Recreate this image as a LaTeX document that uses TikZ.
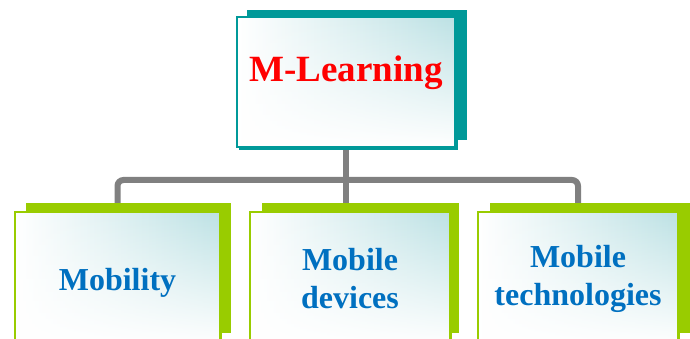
\documentclass[tikz,border=0pt]{standalone}
\usepackage{fontspec}
\setmainfont{Liberation Serif}
\usetikzlibrary{backgrounds,fadings}

\definecolor{boxteal}{HTML}{009999}
\definecolor{boxgreen}{HTML}{99CC00}
\definecolor{linkgray}{HTML}{808080}
\definecolor{titlered}{HTML}{FF0000}
\definecolor{itemblue}{HTML}{0070C0}
\definecolor{glow}{HTML}{BCE1E4}

% glow fades out towards the bottom of a box
\tikzfading[name=glowfade, top color=transparent!0, middle color=transparent!30, bottom color=transparent!100]

\tikzset{
  glowbox/.style={draw, line width=1.5pt, align=center, inner sep=0pt,
    preaction={fill=white},
    preaction={left color=white, middle color=glow!65, right color=glow, path fading=glowfade}},
}

\begin{document}
\begin{tikzpicture}[x=1pt,y=-1pt]
      \useasboundingbox (0,0) rectangle (690,339);

      % shadow boxes
      \fill[boxteal]  (247,10)  rectangle (467,140);
      \fill[boxgreen] (26,203)  rectangle (231,333);
      \fill[boxgreen] (262,203) rectangle (459,333);
      \fill[boxgreen] (490,203) rectangle (692,333);

      \begin{scope}[line width=1.2pt]
        \draw[boxteal, fill=white]  (240,19)  rectangle (457,149);
        \draw[boxgreen, fill=white] (17,214)  rectangle (221,345);
        \draw[boxgreen, fill=white] (252,214) rectangle (451,345);
        \draw[boxgreen, fill=white] (480,214) rectangle (679,345);
      \end{scope}

      \begin{scope}[every node/.style={glowbox}]
        \node[draw=boxteal, minimum width=218pt, minimum height=130pt, text=titlered,
              font=\bfseries\fontsize{37}{40}\selectfont, text height=25pt, text depth=25pt]
              (mlearn) at (346,82) {M-Learning};
        \node[draw=boxgreen, minimum width=205pt, minimum height=133pt, text=itemblue,
              font=\bfseries\fontsize{32}{38}\selectfont, text height=25pt, text depth=2pt]
              (mob)  at (117.5,278.5) {Mobility};
        \node[draw=boxgreen, minimum width=200pt, minimum height=133pt, text=itemblue,
              font=\bfseries\fontsize{32}{38}\selectfont] (dev)  at (350,278.5) {Mobile\\devices};
        \node[draw=boxgreen, minimum width=200pt, minimum height=133pt, text=itemblue,
              font=\bfseries\fontsize{32}{38}\selectfont] (tech) at (578,278.5) {Mobile\\technologies};
      \end{scope}

      \coordinate (hub) at (346,180);

      \begin{pgfonlayer}{background}
        \begin{scope}[every path/.style={draw=linkgray, line width=6pt, rounded corners=6pt}]
          \path (mlearn.south) -- (mlearn.south |- dev.north);
          \path (mob.north) |- (hub) -| (tech.north);
        \end{scope}
      \end{pgfonlayer}

    \end{tikzpicture}
\end{document}
